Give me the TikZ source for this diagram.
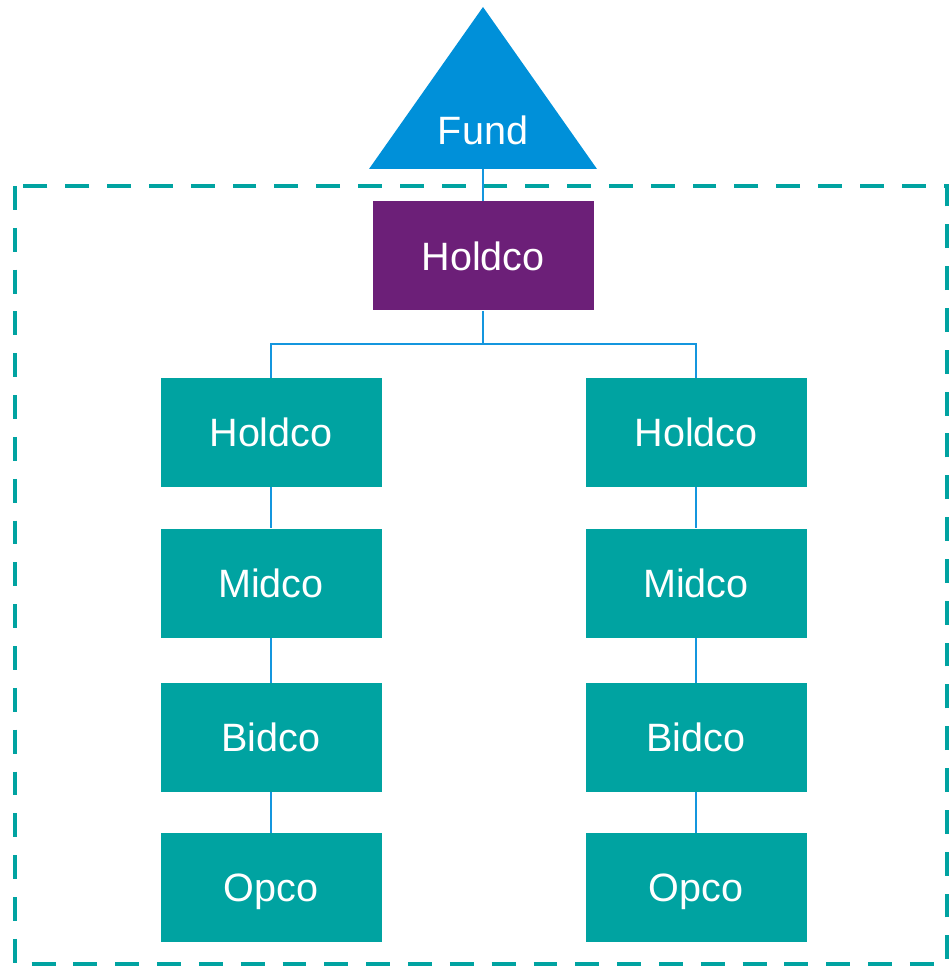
\documentclass[tikz,border=0pt]{standalone}
\usepackage{fontspec}
\setmainfont{Liberation Sans}
\usepackage{xcolor}
\usetikzlibrary{positioning}
\definecolor{fundblue}{RGB}{0,144,217}
\definecolor{holdpurple}{RGB}{108,31,120}
\definecolor{coteal}{RGB}{0,163,161}
\definecolor{linkblue}{RGB}{20,150,222}
\tikzset{co/.style={fill=coteal,text=white,minimum width=4.42cm,minimum height=2.18cm,
 inner sep=0pt,text depth=0pt,font=\fontsize{22.5}{27}\selectfont},
 top/.style={co,fill=holdpurple},
 link/.style={draw=linkblue,line width=0.8pt},
 perim/.style={draw=coteal,line width=2.8pt,dash pattern=on 13.6pt off 10.2pt}}
\begin{document}
\begin{tikzpicture}
\useasboundingbox (0,0) rectangle (19,-19.38);
% fund on top
\fill[fundblue] (9.66,-0.14) -- (11.94,-3.38) -- (7.38,-3.38) -- cycle;
\node[text=white,text depth=0pt,font=\fontsize{22.5}{27}\selectfont] (fund) at (9.66,-2.6) {Fund};
\coordinate (fundbase) at (9.66,-3.38);
% group boundary
\draw[perim] (0.3,-3.72) rectangle (18.94,-19.28);
\node[top] (hold) at (9.66,-5.12) {Holdco};
\coordinate (split) at (9.66,-6.88);
% two chains
\node[co] (h1) at (5.42,-8.65) {Holdco};
\node[co] (m1) at (5.42,-11.66) {Midco};
\node[co] (b1) at (5.42,-14.75) {Bidco};
\node[co] (o1) at (5.42,-17.75) {Opco};
\node[co] (h2) at (13.92,-8.65) {Holdco};
\node[co] (m2) at (13.92,-11.66) {Midco};
\node[co] (b2) at (13.92,-14.75) {Bidco};
\node[co] (o2) at (13.92,-17.75) {Opco};
\draw[link] (fundbase)--(hold.north);
\draw[link] (hold.south)--(split)-|(h1.north);
\draw[link] (split)-|(h2.north);
\draw[link] (h1)--(m1) (m1)--(b1) (b1)--(o1);
\draw[link] (h2)--(m2) (m2)--(b2) (b2)--(o2);
\end{tikzpicture}
\end{document}
